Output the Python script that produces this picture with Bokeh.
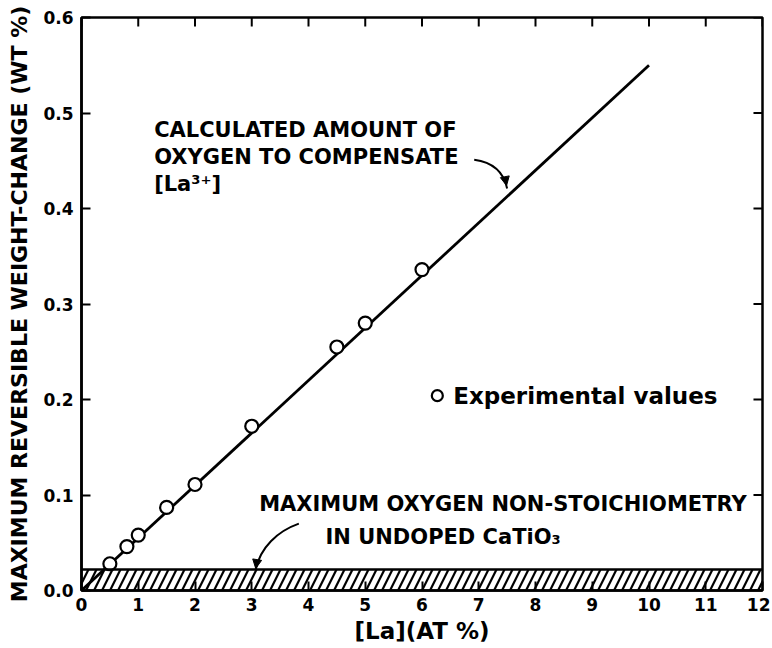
from bokeh.plotting import figure
from bokeh.models import Range1d, FixedTicker, Span, Arrow, NormalHead
from bokeh.core.properties import value
from bokeh.embed import file_html
from bokeh.resources import INLINE

# ---- data ----
exp_la = [0.5, 0.8, 1.0, 1.5, 2.0, 3.0, 4.5, 5.0, 6.0]
exp_wt = [0.028, 0.046, 0.058, 0.087, 0.111, 0.172, 0.255, 0.280, 0.336]
calc_la = [0.0, 10.0]
calc_wt = [0.0, 0.55]
undoped_limit = 0.022
x_ticks = list(range(0, 13))
y_ticks = [0.0, 0.1, 0.2, 0.3, 0.4, 0.5, 0.6]
y_tick_labels = {0.0: "0.0", 0.1: "0.1", 0.2: "0.2", 0.3: "0.3", 0.4: "0.4", 0.5: "0.5", 0.6: "0.6"}

X_MAX, Y_MAX = 12, 0.6
FONT = "DejaVu Sans"

p = figure(width=770, height=646, output_backend="svg", toolbar_location=None,
           x_range=Range1d(0, X_MAX), y_range=Range1d(0, Y_MAX),
           min_border_left=81, min_border_right=8, min_border_top=17, min_border_bottom=40)
p.grid.visible = False
p.outline_line_color = "black"
p.outline_line_width = 2.5

for ax in p.xaxis + p.yaxis:
    ax.axis_line_width = 2.5
    ax.major_tick_in = 9
    ax.major_tick_out = 0
    ax.major_tick_line_width = 2
    ax.minor_tick_line_color = None
    ax.major_label_text_font = FONT
    ax.major_label_text_font_style = "bold"
    ax.major_label_text_font_size = "17px"
    ax.major_label_text_color = "black"
    ax.axis_label_text_font = FONT
    ax.axis_label_text_font_style = "bold"
    ax.axis_label_text_color = "black"

p.xaxis.ticker = FixedTicker(ticks=x_ticks)
p.yaxis.ticker = FixedTicker(ticks=y_ticks)
p.yaxis.major_label_overrides = y_tick_labels
p.xaxis.axis_label = "[La](AT %)"
p.xaxis.axis_label_text_font_size = "23px"
p.xaxis.axis_label_standoff = 4
p.xaxis.major_label_standoff = 7
p.yaxis.axis_label = "MAXIMUM REVERSIBLE WEIGHT-CHANGE (WT %)"
p.yaxis.axis_label_text_font_size = "22px"
p.yaxis.axis_label_standoff = 8
p.yaxis.major_label_standoff = 8

# inward ticks on the top and right edges of the frame
top_len = 0.0094
right_len = 0.159
p.segment(x0=x_ticks, y0=[Y_MAX] * len(x_ticks), x1=x_ticks, y1=[Y_MAX - top_len] * len(x_ticks),
          line_color="black", line_width=2)
p.segment(x0=[X_MAX] * len(y_ticks), y0=y_ticks, x1=[X_MAX - right_len] * len(y_ticks), y1=y_ticks,
          line_color="black", line_width=2)

# hatched band of undoped non-stoichiometry
p.quad(left=[0], right=[X_MAX], bottom=[0], top=[undoped_limit], fill_color=None, line_color=None,
       hatch_pattern="/", hatch_color="black", hatch_scale=16, hatch_weight=2.2)
p.add_layout(Span(location=undoped_limit, dimension="width", line_color="black", line_width=2.5))

# calculated line
p.line(calc_la, calc_wt, line_color="black", line_width=2.8)

# experimental points
p.scatter(exp_la, exp_wt, marker="circle", size=13, fill_color="white", line_color="black", line_width=2.2)

# legend
p.scatter([6.27], [0.204], marker="circle", size=11, fill_color="white", line_color="black", line_width=2.2)
p.text([6.55], [0.204], text=["Experimental values"], text_font=value(FONT), text_font_style="bold",
       text_font_size="23px", text_baseline="middle", text_color="black")

# annotation 1
p.text([1.28, 1.28, 1.28], [0.482, 0.454, 0.426],
       text=["CALCULATED AMOUNT OF", "OXYGEN TO COMPENSATE", "[La³⁺]"],
       text_font=value(FONT), text_font_style="bold", text_font_size="21px",
       text_baseline="middle", text_color="black")
p.bezier(x0=[6.92], y0=[0.451], x1=[7.50], y1=[0.421], cx0=[7.30], cy0=[0.448], cx1=[7.45], cy1=[0.435],
         line_color="black", line_width=2)
p.add_layout(Arrow(end=NormalHead(size=9, fill_color="black", line_color="black"),
                   x_start=7.46, y_start=0.433, x_end=7.49, y_end=0.424, line_width=0, line_color=None))

# annotation 2
p.text([3.13], [0.091], text=["MAXIMUM OXYGEN NON-STOICHIOMETRY"],
       text_font=value(FONT), text_font_style="bold", text_font_size="21px",
       text_baseline="middle", text_color="black")
p.text([4.30], [0.0555], text=["IN UNDOPED CaTiO₃"],
       text_font=value(FONT), text_font_style="bold", text_font_size="21px",
       text_baseline="middle", text_color="black")
p.bezier(x0=[3.83], y0=[0.070], x1=[3.07], y1=[undoped_limit], cx0=[3.45], cy0=[0.062], cx1=[3.15], cy1=[0.045],
         line_color="black", line_width=2)
p.add_layout(Arrow(end=NormalHead(size=9, fill_color="black", line_color="black"),
                   x_start=3.10, y_start=0.034, x_end=3.07, y_end=undoped_limit + 0.001, line_width=0, line_color=None))

open("out.html", "w").write(file_html(p, INLINE))
